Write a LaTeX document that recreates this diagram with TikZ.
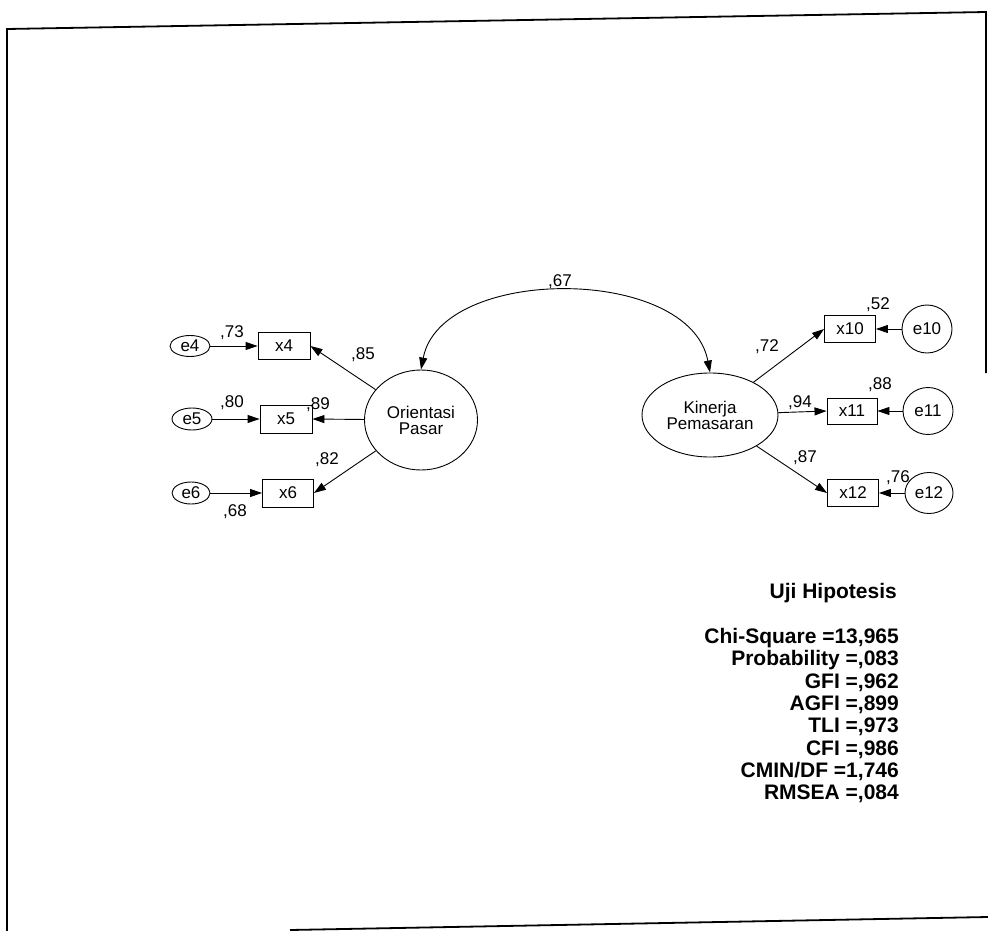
\documentclass[tikz,border=0pt]{standalone}
\usepackage{fontspec}
\setmainfont{Liberation Sans}
\usetikzlibrary{arrows.meta,shapes.geometric}
\begin{document}
\begin{tikzpicture}[x=1pt,y=-1pt,
  lat/.style={draw, ellipse, line width=0.9pt, inner sep=0pt, align=center,
              font=\fontsize{17}{16}\selectfont},
  obs/.style={draw, rectangle, line width=0.9pt, inner sep=0pt,
              font=\fontsize{17}{17}\selectfont},
  err/.style={draw, ellipse, line width=0.9pt, inner sep=0pt,
              font=\fontsize{17}{17}\selectfont},
  lbl/.style={inner sep=0pt, font=\fontsize{17}{17}\selectfont},
  arr/.style={line width=0.9pt, -{Triangle[length=12pt,width=8pt]}},
  frameline/.style={line width=1.8pt},
  stat/.style={anchor=east, inner sep=0pt, font=\bfseries\fontsize{21}{22}\selectfont}]
\useasboundingbox (0,0) rectangle (988,931);
\fill[white] (0,0) rectangle (988,931);

% frame
\draw[frameline] (7,931) -- (7,29) -- (986,12) -- (986,373);
\draw[frameline] (290,930) -- (988,917);

% left measurement model
\node[lat, minimum width=113pt, minimum height=100pt] (O) at (421,420) {Orientasi\\Pasar};
\node[obs, minimum width=52pt, minimum height=27pt] (x4) at (284,346) {x4};
\node[obs, minimum width=52pt, minimum height=28pt] (x5) at (286,419) {x5};
\node[obs, minimum width=51pt, minimum height=28pt] (x6) at (288,493) {x6};
\node[err, minimum width=40pt, minimum height=21pt] (e4) at (190,346) {e4};
\node[err, minimum width=40pt, minimum height=22pt] (e5) at (192,419) {e5};
\node[err, minimum width=38pt, minimum height=22pt] (e6) at (191,493) {e6};

% right measurement model
\node[lat, minimum width=136pt, minimum height=84pt] (K) at (710,415) {Kinerja\\Pemasaran};
\node[obs, minimum width=51pt, minimum height=27pt] (x10) at (850,329) {x10};
\node[obs, minimum width=50pt, minimum height=26pt] (x11) at (852,411) {x11};
\node[obs, minimum width=51pt, minimum height=27pt] (x12) at (853,493) {x12};
\node[err, minimum width=50pt, minimum height=48pt] (e10) at (927,329) {e10};
\node[err, minimum width=50pt, minimum height=47pt] (e11) at (928,411) {e11};
\node[err, minimum width=48pt, minimum height=41pt] (e12) at (929,493) {e12};

% paths
\draw[arr] (O) -- (x4.east);
\draw[arr] (O) -- (x5.east);
\draw[arr] (O) -- (x6.east);
\draw[arr] (e4) -- (x4);
\draw[arr] (e5) -- (x5);
\draw[arr] (e6) -- (x6);
\draw[arr] (K) -- (x10.west);
\draw[arr] (K) -- (x11.west);
\draw[arr] (K) -- (x12.west);
\draw[arr] (e10) -- (x10);
\draw[arr] (e11) -- (x11);
\draw[arr] (e12) -- (x12);
\draw[line width=0.9pt, {Triangle[length=12pt,width=8pt]}-{Triangle[length=12pt,width=8pt]}]
  (O.north) .. controls (441,265) and (690,265) .. (K.north);

% labels
\node[lbl] (l67) at (560,282) {,67};
\node[lbl] (l73) at (232,333) {,73};
\node[lbl] (l85) at (363,355) {,85};
\node[lbl] (l80) at (232,403) {,80};
\node[lbl] (l89) at (318,405) {,89};
\node[lbl] (l82) at (327,460) {,82};
\node[lbl] (l68) at (235,512) {,68};
\node[lbl] (l72) at (767,347) {,72};
\node[lbl] (l52) at (878,305) {,52};
\node[lbl] (l94) at (800,403) {,94};
\node[lbl] (l88) at (880,385) {,88};
\node[lbl] (l87) at (805,458) {,87};
\node[lbl] (l76) at (898,478) {,76};

% statistics
\node[stat] (s0) at (897,593) {Uji Hipotesis};
\node[stat] (s1) at (899,638) {Chi-Square =13,965};
\node[stat] (s2) at (899,660) {Probability =,083};
\node[stat] (s3) at (899,683) {GFI =,962};
\node[stat] (s4) at (899,705) {AGFI =,899};
\node[stat] (s5) at (899,727) {TLI =,973};
\node[stat] (s6) at (899,750) {CFI =,986};
\node[stat] (s7) at (899,772) {CMIN/DF =1,746};
\node[stat] (s8) at (899,794) {RMSEA =,084};
\end{tikzpicture}
\end{document}
